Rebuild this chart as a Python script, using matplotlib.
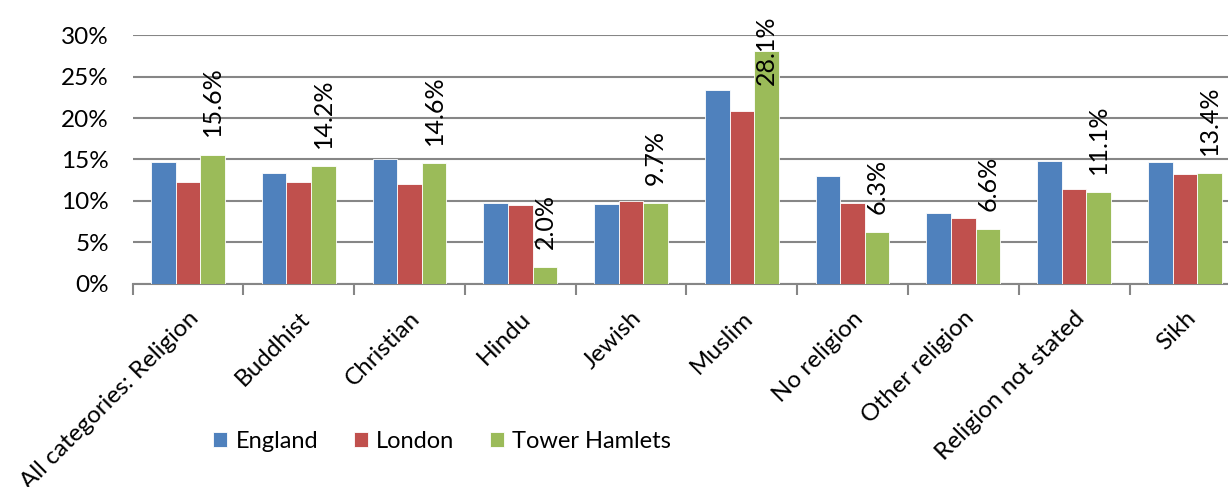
import numpy as np
import matplotlib.pyplot as plt
from matplotlib.ticker import PercentFormatter

plt.rcParams['font.family'] = ['Lato', 'DejaVu Sans']

categories = ["All categories: Religion", "Buddhist", "Christian", "Hindu", "Jewish",
              "Muslim", "No religion", "Other religion", "Religion not stated", "Sikh"]
england = [14.7, 13.4, 15.1, 9.7, 9.6, 23.4, 13.0, 8.6, 14.8, 14.7]
london = [12.3, 12.3, 12.1, 9.5, 10.0, 20.9, 9.8, 7.9, 11.4, 13.2]
tower_hamlets = [15.6, 14.2, 14.6, 2.0, 9.7, 28.1, 6.3, 6.6, 11.1, 13.4]

series = [("England", england, "#4F81BD"),
          ("London", london, "#C0504D"),
          ("Tower Hamlets", tower_hamlets, "#9BBB59")]

fig = plt.figure(figsize=(12.28, 4.87), dpi=100)
ax = fig.add_axes([0.108, 0.417, 0.902, 0.511])

x = np.arange(len(categories))
w = 0.222
for k, (name, vals, col) in enumerate(series):
    ax.bar(x + (k - 1) * w, np.array(vals) / 100, w, color=col, label=name,
           edgecolor="white", linewidth=0.6, zorder=3)

# data labels on Tower Hamlets
for xi, v in zip(x + w, tower_hamlets):
    if v / 100 > 0.25:
        ax.text(xi, 1.08, f"{v:.1f}%", rotation=90, ha="center", va="top",
                fontsize=18, transform=ax.get_xaxis_transform(), clip_on=False)
    else:
        ax.annotate(f"{v:.1f}%", (xi, v / 100), xytext=(0, 13), textcoords="offset points",
                    rotation=90, ha="center", va="bottom", fontsize=18)

ax.set_ylim(0, 0.30)
ax.set_yticks(np.arange(0, 0.31, 0.05))
ax.yaxis.set_major_formatter(PercentFormatter(1.0, decimals=0))
ax.set_xlim(-0.5, len(categories) - 0.5)
ax.grid(axis="y", color="#868686", linewidth=1.5, zorder=0)
ax.set_axisbelow(True)

for s in ["top", "right", "left"]:
    ax.spines[s].set_visible(False)
ax.spines["bottom"].set_color("#868686")
ax.spines["bottom"].set_linewidth(1.5)

ax.set_xticks(x - 0.5, minor=True)
ax.set_xticks(x)
ax.set_xticklabels(categories, rotation=45, ha="right", rotation_mode="anchor", fontsize=17.5)
ax.tick_params(axis="x", which="major", length=0, pad=17)
ax.tick_params(axis="x", which="minor", length=8, width=1.5, color="#868686")
ax.tick_params(axis="y", length=0, pad=17, labelsize=17.5)

fig.legend(loc="center", bbox_to_anchor=(0.36, 0.094), ncol=3, frameon=False,
           fontsize=17, handlelength=0.6, handleheight=0.6, handletextpad=0.35,
           columnspacing=1.5)

fig.savefig("out.png", dpi=100)
